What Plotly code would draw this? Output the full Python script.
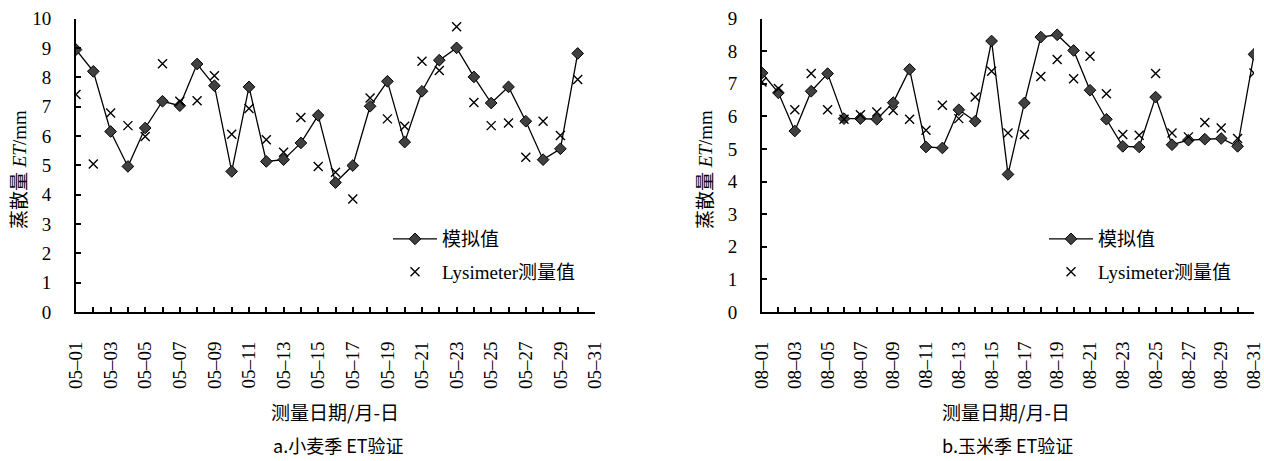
import plotly.graph_objects as go

# Day of month for each record
wheat_days = list(range(1, 31))
maize_days = list(range(1, 32))

# Daily evapotranspiration (mm): model output and lysimeter measurement
wheat_sim = [8.94, 8.20, 6.15, 4.96, 6.27, 7.18, 7.03, 8.45, 7.71, 4.79,
             7.67, 5.13, 5.19, 5.76, 6.70, 4.41, 4.99, 7.01, 7.86, 5.79,
             7.52, 8.58, 9.00, 8.01, 7.12, 7.67, 6.50, 5.19, 5.56, 8.81]
wheat_obs = [7.41, 5.04, 6.78, 6.35, 5.98, 8.46, 7.18, 7.20, 8.05, 6.06,
             6.93, 5.87, 5.44, 6.63, 4.96, 4.76, 3.85, 7.29, 6.58, 6.33,
             8.54, 8.23, 9.72, 7.14, 6.35, 6.44, 5.27, 6.50, 6.01, 7.92]

maize_sim = [7.33, 6.72, 5.55, 6.77, 7.31, 5.93, 5.93, 5.91, 6.42, 7.44,
             5.06, 5.03, 6.20, 5.85, 8.31, 4.22, 6.41, 8.43, 8.50, 8.02,
             6.80, 5.91, 5.08, 5.06, 6.59, 5.13, 5.27, 5.30, 5.32, 5.08, 7.90]
maize_obs = [7.05, 6.85, 6.20, 7.31, 6.20, 5.91, 6.05, 6.13, 6.18, 5.91,
             5.57, 6.34, 5.93, 6.59, 7.38, 5.49, 5.44, 7.22, 7.74, 7.15,
             7.84, 6.69, 5.44, 5.42, 7.31, 5.49, 5.37, 5.81, 5.64, 5.32, 7.33]

# Axis ticks: one per day, labelled every second day
tick_days = list(range(1, 32))
wheat_ticktext = ["05–01", "", "05–03", "", "05–05", "", "05–07", "", "05–09", "",
                  "05–11", "", "05–13", "", "05–15", "", "05–17", "", "05–19", "",
                  "05–21", "", "05–23", "", "05–25", "", "05–27", "", "05–29", "",
                  "05–31"]
maize_ticktext = ["08–01", "", "08–03", "", "08–05", "", "08–07", "", "08–09", "",
                  "08–11", "", "08–13", "", "08–15", "", "08–17", "", "08–19", "",
                  "08–21", "", "08–23", "", "08–25", "", "08–27", "", "08–29", "",
                  "08–31"]

W, H = 1264, 461
SERIF = "Liberation Serif"
CJK = "Noto Sans CJK SC"


def cjk(s):
    return f'<span style="font-family:{CJK}">{s}</span>'


def px(x):
    return x / W


def py(y):
    return 1 - y / H


sim_name = cjk("模拟值")
obs_name = "Lysimeter" + cjk("测量值")
y_title = cjk("蒸散量") + " <i>ET</i>/mm"

sim_marker = dict(symbol="diamond", size=9, color="#404040",
                  line=dict(color="#000000", width=1))
obs_marker = dict(symbol="x-thin", size=9, color="#000000",
                  line=dict(color="#000000", width=1.4))

fig = go.Figure()
fig.add_trace(go.Scatter(x=wheat_days, y=wheat_sim, mode="lines+markers",
                         name=sim_name, line=dict(color="#000000", width=1.3),
                         marker=sim_marker, xaxis="x", yaxis="y", legend="legend"))
fig.add_trace(go.Scatter(x=wheat_days, y=wheat_obs, mode="markers",
                         name=obs_name, marker=obs_marker,
                         xaxis="x", yaxis="y", legend="legend2"))
fig.add_trace(go.Scatter(x=maize_days, y=maize_sim, mode="lines+markers",
                         name=sim_name, line=dict(color="#000000", width=1.3),
                         marker=sim_marker, xaxis="x2", yaxis="y2", legend="legend3"))
fig.add_trace(go.Scatter(x=maize_days, y=maize_obs, mode="markers",
                         name=obs_name, marker=obs_marker,
                         xaxis="x2", yaxis="y2", legend="legend4"))

ydom = [py(312), py(18.5)]
common_x = dict(range=[1, 31], tickmode="array", tickvals=tick_days,
                tickangle=-90, ticks="inside", ticklen=5, tickwidth=1.5,
                tickcolor="#000000", showline=True, linecolor="#000000",
                linewidth=2, showgrid=False, zeroline=False, automargin=False,
                ticklabelstandoff=20, ticklabeloverflow="allow",
                tickfont=dict(family=SERIF, size=19, color="#000000"))
common_y = dict(ticks="inside", ticklen=5, tickwidth=1.5, tickcolor="#000000",
                showline=True, linecolor="#000000", linewidth=2,
                showgrid=False, zeroline=False, automargin=False,
                domain=ydom, dtick=1, ticklabelstandoff=19,
                tickfont=dict(family=SERIF, size=19, color="#000000"))

legend_base = dict(bgcolor="rgba(0,0,0,0)", borderwidth=0, xanchor="left",
                   yanchor="middle", itemwidth=44,
                   font=dict(family=SERIF, size=19, color="#000000"))

fig.update_layout(
    template="none",
    width=W, height=H,
    margin=dict(l=0, r=0, t=0, b=0, autoexpand=False),
    paper_bgcolor="#ffffff", plot_bgcolor="#ffffff",
    xaxis=dict(domain=[px(76), px(595)], anchor="y",
               ticktext=wheat_ticktext, **common_x),
    yaxis=dict(range=[0, 10], anchor="x", **common_y),
    xaxis2=dict(domain=[px(762), px(1254)], anchor="y2",
                ticktext=maize_ticktext, **common_x),
    yaxis2=dict(range=[0, 9], anchor="x2", **common_y),
    legend=dict(x=px(388), y=py(239), **legend_base),
    legend2=dict(x=px(388), y=py(272), **legend_base),
    legend3=dict(x=px(1044), y=py(239), **legend_base),
    legend4=dict(x=px(1044), y=py(272), **legend_base),
    showlegend=True,
)

annotations = [
    dict(text=y_title, x=px(17), y=py(170), textangle=-90, yanchor="middle",
         font=dict(family=SERIF, size=19, color="#000000")),
    dict(text=y_title, x=px(703), y=py(170), textangle=-90, yanchor="middle",
         font=dict(family=SERIF, size=19, color="#000000")),
    dict(text="测量日期/月-日", x=px(335), y=py(411), yanchor="middle",
         font=dict(family=CJK, size=19, color="#000000")),
    dict(text="测量日期/月-日", x=px(1006), y=py(411), yanchor="middle",
         font=dict(family=CJK, size=19, color="#000000")),
    dict(text="a.小麦季 ET验证", x=px(338), y=py(460), yanchor="bottom",
         font=dict(family=CJK, size=18, color="#000000")),
    dict(text="b.玉米季 ET验证", x=px(1007), y=py(460), yanchor="bottom",
         font=dict(family=CJK, size=18, color="#000000")),
]
for a in annotations:
    a.update(xref="paper", yref="paper", showarrow=False, xanchor="center")
fig.update_layout(annotations=annotations)

fig.write_html("out.html")
